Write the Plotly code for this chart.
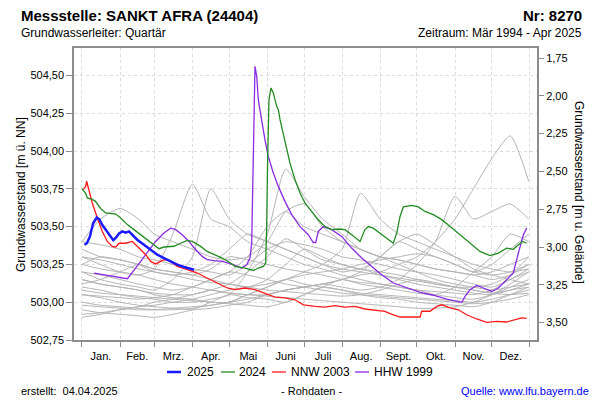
import plotly.graph_objects as go

# ---------------- data ----------------
MONTH_LABELS = ["Jan.", "Feb.", "Mrz.", "Apr.", "Mai", "Juni", "Juli", "Aug.", "Sept.", "Okt.", "Nov.", "Dez."]
MONTH_STARTS = [0, 31, 59, 90, 120, 151, 181, 212, 243, 273, 304, 334, 365]

Y_TICKS = [502.75, 503.00, 503.25, 503.50, 503.75, 504.00, 504.25, 504.50]
Y2_TICKS = [1.75, 2.00, 2.25, 2.50, 2.75, 3.00, 3.25, 3.50]
GROUND = 506.365  # Geländehöhe [m ü. NN]

DAYS_2025 = [2, 4, 6.5, 9, 12, 14, 16.6, 19.3, 23.4, 25.5, 27.5, 30.2, 32.9, 35.6, 38.3, 41, 45, 50.5, 56, 61.4,
             66.8, 72.3, 77.7, 83.1, 87.2, 91.3]
LEVEL_2025 = [503.38, 503.39, 503.435, 503.52, 503.56, 503.55, 503.51, 503.48, 503.435, 503.41, 503.425, 503.455,
              503.468, 503.46, 503.468, 503.446, 503.413, 503.38, 503.347, 503.314, 503.292, 503.27, 503.248,
              503.233, 503.222, 503.215]

DAYS_2024 = [0, 3, 4.3, 8.4, 11, 15.2, 19.3, 23.4, 27.5, 31.5, 37, 42.4, 47.8, 53.2, 58.7, 62.8, 66.8, 75, 80.4,
             85.8, 89.9, 96.7, 102, 107.6, 114.3, 121, 124.7, 132.8, 139.6, 143.7, 147.8, 149.7, 150.5, 151.3,
             152.4, 154, 155.9, 158.7, 160, 161.4, 165.4, 169.5, 173.6, 177.7, 181.7, 187.2, 192.6, 198, 203.5,
             208.9, 214.3, 219.8, 226.6, 230.6, 233.3, 237.4, 242.9, 248.3, 253.7, 256.5, 259.2, 261.9, 268.7,
             274.1, 279.5, 286.3, 293.2, 300, 308, 316.2, 324.4, 332.5, 339.3, 346.1, 351.5, 355.6, 359.2, 362.4]
LEVEL_2024 = [503.75, 503.72, 503.69, 503.68, 503.667, 503.62, 503.59, 503.585, 503.583, 503.557, 503.513, 503.48,
              503.446, 503.413, 503.38, 503.354, 503.365, 503.37, 503.39, 503.409, 503.402, 503.369, 503.336,
              503.314, 503.292, 503.259, 503.237, 503.226, 503.21, 503.226, 503.237, 503.259, 503.50, 503.942,
              504.339, 504.417, 504.384, 504.295, 504.273, 504.207, 504.075, 503.92, 503.81, 503.722, 503.656,
              503.60, 503.545, 503.50, 503.48, 503.484, 503.48, 503.446, 503.402, 503.48, 503.50, 503.49, 503.458,
              503.425, 503.39, 503.458, 503.567, 503.63, 503.64, 503.63, 503.60, 503.579, 503.546, 503.50,
              503.446, 503.39, 503.336, 503.308, 503.325, 503.358, 503.35, 503.38, 503.402, 503.39]

DAYS_NNW = [1, 3, 3.8, 5.7, 8.4, 12.5, 16.6, 20.6, 24.7, 27.5, 30.2, 35.6, 41, 46.5, 51.9, 56, 60, 64.1, 66.8,
            70.9, 77.7, 85.8, 94, 102, 110.3, 118.4, 124.7, 132.8, 141, 149.1, 157.3, 165.4, 173.6, 180.4, 189.9,
            198, 206.2, 214.3, 222.5, 230.6, 238.8, 246.9, 251, 259.2, 267.3, 275.5, 276.9, 283.6, 289.1, 293.2,
            300, 306.7, 313.5, 321.7, 329.8, 338, 346.1, 354.3, 358.4, 362.4]
LEVEL_NNW = [503.744, 503.766, 503.80, 503.744, 503.656, 503.557, 503.468, 503.402, 503.369, 503.365, 503.39,
             503.39, 503.402, 503.358, 503.314, 503.27, 503.253, 503.27, 503.281, 503.276, 503.237, 503.215,
             503.193, 503.16, 503.127, 503.094, 503.083, 503.094, 503.083, 503.061, 503.034, 503.028, 503.016,
             502.983, 502.972, 502.968, 502.977, 502.968, 502.972, 502.955, 502.946, 502.939, 502.924, 502.902,
             502.902, 502.902, 502.94, 502.94, 502.972, 502.983, 502.962, 502.95, 502.917, 502.889, 502.867,
             502.873, 502.869, 502.884, 502.896, 502.893]

DAYS_HHW = [9.8, 37, 43.7, 51.9, 60, 66.8, 72.3, 76.4, 81.7, 87.2, 92.7, 98, 102, 107.6, 114.3, 123.3, 130, 134.2,
            136.9, 138.3, 139.6, 141, 142.4, 143.7, 145, 147, 149.1, 151.8, 155.9, 160, 165.4, 170.9, 177.7,
            184.4, 188.5, 190.5, 192.6, 196.7, 203.5, 211.6, 219.8, 228, 236.1, 242.9, 253.7, 264.6, 275.5,
            286.3, 297.2, 309.5, 312.2, 316.2, 321.7, 327, 333.9, 339.3, 346.1, 351.5, 355.6, 359.7, 362.4]
LEVEL_HHW = [503.193, 503.155, 503.226, 503.314, 503.402, 503.458, 503.49, 503.48, 503.446, 503.402, 503.347,
             503.303, 503.281, 503.275, 503.27, 503.248, 503.226, 503.248, 503.292, 503.39, 503.942, 504.56,
             504.493, 504.34, 504.273, 504.163, 504.075, 503.964, 503.855, 503.766, 503.667, 503.579, 503.50,
             503.446, 503.395, 503.395, 503.468, 503.50, 503.48, 503.435, 503.358, 503.292, 503.237, 503.19,
             503.127, 503.094, 503.065, 503.046, 503.021, 502.999, 503.038, 503.083, 503.111, 503.094, 503.071,
             503.094, 503.149, 503.193, 503.325, 503.446, 503.49]

GRAY_DAYS = [0, 15, 31, 46, 59, 74, 90, 105, 120, 135, 151, 166, 181, 196, 212, 227, 243, 258, 273, 288, 304, 319,
             334, 349, 364]
GRAY_LEVELS = [
    [503.30, 503.25, 503.20, 503.18, 503.22, 503.45, 503.78, 503.55, 503.50, 503.40, 503.35, 503.30, 503.25, 503.22, 503.18, 503.15, 503.12, 503.10, 503.08, 503.05, 503.03, 503.02, 503.05, 503.10, 503.15],
    [503.20, 503.15, 503.12, 503.10, 503.08, 503.15, 503.30, 503.75, 503.55, 503.45, 503.40, 503.35, 503.30, 503.25, 503.20, 503.22, 503.18, 503.15, 503.12, 503.10, 503.08, 503.06, 503.05, 503.08, 503.12],
    [503.10, 503.08, 503.05, 503.03, 503.02, 503.00, 503.00, 503.02, 503.05, 503.20, 503.45, 503.88, 503.70, 503.55, 503.45, 503.35, 503.30, 503.25, 503.20, 503.15, 503.12, 503.10, 503.08, 503.10, 503.12],
    [503.15, 503.12, 503.10, 503.08, 503.05, 503.03, 503.02, 503.00, 503.00, 503.05, 503.10, 503.15, 503.20, 503.25, 503.35, 503.72, 503.55, 503.45, 503.40, 503.35, 503.30, 503.25, 503.22, 503.20, 503.22],
    [503.05, 503.03, 503.00, 502.98, 502.97, 502.96, 502.95, 502.96, 502.98, 503.00, 503.05, 503.08, 503.10, 503.12, 503.15, 503.18, 503.20, 503.25, 503.30, 503.40, 503.55, 503.75, 503.95, 504.10, 503.80],
    [503.25, 503.22, 503.20, 503.18, 503.15, 503.12, 503.10, 503.08, 503.06, 503.05, 503.05, 503.08, 503.10, 503.12, 503.10, 503.08, 503.10, 503.15, 503.25, 503.40, 503.70, 503.55, 503.60, 503.65, 503.55],
    [503.35, 503.30, 503.28, 503.25, 503.22, 503.20, 503.18, 503.22, 503.30, 503.28, 503.25, 503.22, 503.20, 503.18, 503.15, 503.13, 503.12, 503.10, 503.08, 503.07, 503.06, 503.05, 503.08, 503.15, 503.20],
    [503.00, 502.98, 502.97, 502.96, 502.95, 502.95, 502.96, 502.98, 503.00, 503.05, 503.10, 503.15, 503.12, 503.10, 503.08, 503.06, 503.05, 503.04, 503.03, 503.02, 503.01, 503.00, 503.02, 503.05, 503.08],
    [502.90, 502.92, 502.95, 502.97, 502.98, 503.00, 503.02, 503.05, 503.08, 503.10, 503.12, 503.15, 503.18, 503.20, 503.22, 503.25, 503.28, 503.30, 503.32, 503.30, 503.25, 503.20, 503.18, 503.20, 503.25],
    [503.40, 503.38, 503.35, 503.30, 503.28, 503.25, 503.22, 503.20, 503.18, 503.25, 503.35, 503.40, 503.38, 503.35, 503.30, 503.28, 503.25, 503.22, 503.20, 503.18, 503.15, 503.12, 503.10, 503.15, 503.22],
    [502.95, 502.93, 502.92, 502.91, 502.90, 502.92, 502.95, 503.00, 503.05, 503.03, 503.02, 503.00, 503.05, 503.10, 503.08, 503.05, 503.03, 503.02, 503.00, 502.99, 502.98, 502.97, 503.00, 503.05, 503.10],
    [503.20, 503.18, 503.15, 503.12, 503.10, 503.08, 503.10, 503.15, 503.20, 503.30, 503.50, 503.60, 503.50, 503.45, 503.40, 503.35, 503.30, 503.28, 503.25, 503.22, 503.20, 503.18, 503.15, 503.18, 503.25],
    [503.08, 503.06, 503.05, 503.04, 503.03, 503.02, 503.01, 503.00, 502.99, 502.98, 502.97, 503.00, 503.05, 503.10, 503.15, 503.12, 503.10, 503.08, 503.06, 503.05, 503.10, 503.20, 503.30, 503.45, 503.40],
    [503.30, 503.28, 503.25, 503.22, 503.20, 503.18, 503.15, 503.13, 503.12, 503.10, 503.08, 503.07, 503.06, 503.05, 503.04, 503.05, 503.08, 503.12, 503.15, 503.13, 503.10, 503.08, 503.06, 503.08, 503.10],
    [503.12, 503.15, 503.20, 503.25, 503.22, 503.20, 503.18, 503.15, 503.12, 503.10, 503.15, 503.25, 503.35, 503.30, 503.25, 503.22, 503.20, 503.18, 503.15, 503.12, 503.10, 503.08, 503.06, 503.05, 503.06],
    [502.98, 502.97, 502.96, 502.95, 502.95, 502.96, 502.97, 502.98, 503.00, 503.02, 503.05, 503.08, 503.10, 503.12, 503.15, 503.20, 503.30, 503.40, 503.45, 503.38, 503.30, 503.22, 503.18, 503.15, 503.12],
    [503.25, 503.30, 503.28, 503.25, 503.20, 503.18, 503.20, 503.25, 503.35, 503.45, 503.40, 503.35, 503.30, 503.25, 503.22, 503.20, 503.18, 503.16, 503.14, 503.12, 503.10, 503.10, 503.12, 503.18, 503.30],
    [503.05, 503.04, 503.03, 503.02, 503.03, 503.05, 503.10, 503.15, 503.20, 503.18, 503.15, 503.12, 503.10, 503.08, 503.06, 503.05, 503.04, 503.03, 503.02, 503.01, 503.00, 502.99, 503.00, 503.02, 503.05],
    [503.15, 503.12, 503.10, 503.08, 503.06, 503.05, 503.05, 503.08, 503.12, 503.20, 503.30, 503.42, 503.35, 503.28, 503.25, 503.22, 503.30, 503.40, 503.35, 503.30, 503.25, 503.20, 503.25, 503.35, 503.45],
    [502.92, 502.93, 502.95, 502.97, 503.00, 503.02, 503.05, 503.08, 503.06, 503.05, 503.04, 503.03, 503.02, 503.01, 503.00, 502.99, 502.98, 502.97, 502.96, 502.96, 502.97, 503.00, 503.05, 503.12, 503.20],
    [503.40, 503.55, 503.62, 503.55, 503.45, 503.40, 503.35, 503.30, 503.28, 503.30, 503.40, 503.60, 503.65, 503.50, 503.40, 503.35, 503.30, 503.28, 503.25, 503.22, 503.20, 503.18, 503.20, 503.25, 503.30],
]

# ---------------- layout geometry ----------------
W, H = 600, 400
ML, MR, MT, MB = 74, 63, 48, 60
PW, PH = W - ML - MR, H - MT - MB
Y_MIN = 502.75
Y_MAX = Y_MIN + PH / 151.2
X_RANGE = [-6.5, 370.8]


def px(x):
    return (x - ML) / PW


def py(y):
    return (H - MB - y) / PH


FONT = "Liberation Sans, Arial, sans-serif"
AXIS_GRAY = "#8c8c8c"
GRID = "#dcdcdc"

fig = go.Figure()

for lv in GRAY_LEVELS:
    fig.add_trace(go.Scatter(x=GRAY_DAYS, y=lv, mode="lines", line=dict(color="#b4b4b4", width=1, shape="spline", smoothing=0.6),
                             showlegend=False, hoverinfo="skip"))

fig.add_trace(go.Scatter(x=DAYS_HHW, y=LEVEL_HHW, mode="lines", name="HHW 1999",
                         line=dict(color="#8a2be2", width=1.3), showlegend=False))
fig.add_trace(go.Scatter(x=DAYS_NNW, y=LEVEL_NNW, mode="lines", name="NNW 2003",
                         line=dict(color="#ff1a1a", width=1.3), showlegend=False))
fig.add_trace(go.Scatter(x=DAYS_2024, y=LEVEL_2024, mode="lines", name="2024",
                         line=dict(color="#228b22", width=1.3), showlegend=False))
fig.add_trace(go.Scatter(x=DAYS_2025, y=LEVEL_2025, mode="lines", name="2025",
                         line=dict(color="#1a1aff", width=2.5), showlegend=False))
# right axis carrier (depth below ground)
fig.add_trace(go.Scatter(x=[None], y=[None], yaxis="y2", showlegend=False, hoverinfo="skip"))

mids = [(MONTH_STARTS[i] + MONTH_STARTS[i + 1]) / 2 for i in range(12)]

fig.update_layout(
    width=W, height=H,
    margin=dict(l=ML, r=MR, t=MT, b=MB),
    paper_bgcolor="white", plot_bgcolor="white",
    font=dict(family=FONT, size=11, color="black"),
    showlegend=False,
    xaxis=dict(
        range=X_RANGE, showgrid=False, zeroline=False,
        tickmode="array", tickvals=mids, ticktext=MONTH_LABELS,
        ticks="outside", ticklen=5, tickcolor="rgba(0,0,0,0)",
        tickfont=dict(size=11, color="black"),
        showline=True, linecolor=AXIS_GRAY, linewidth=1.5, mirror=True,
        minor=dict(tickmode="array", tickvals=MONTH_STARTS, ticks="outside", ticklen=5,
                   tickcolor=AXIS_GRAY, showgrid=True, gridcolor=GRID, griddash="3px,3px", gridwidth=1),
    ),
    yaxis=dict(
        range=[Y_MIN, Y_MAX], zeroline=False,
        tickmode="array", tickvals=Y_TICKS, ticktext=[f"{v:.2f}".replace(".", ",") for v in Y_TICKS],
        ticks="outside", ticklen=6, tickcolor=AXIS_GRAY,
        showgrid=True, gridcolor=GRID, griddash="3px,3px", gridwidth=1,
        showline=True, linecolor=AXIS_GRAY, linewidth=1.5, mirror=True,
        tickfont=dict(size=11, color="black"),
    ),
    yaxis2=dict(
        overlaying="y", side="right",
        range=[GROUND - Y_MIN, GROUND - Y_MAX], zeroline=False, showgrid=False,
        tickmode="array", tickvals=Y2_TICKS, ticktext=[f"{v:.2f}".replace(".", ",") for v in Y2_TICKS],
        ticks="outside", ticklen=6, tickcolor=AXIS_GRAY, showline=False,
        tickfont=dict(size=11, color="black"),
    ),
)

ann = []


def text(x, y, s, size=11, xanchor="left", color="black", bold=False, angle=0):
    ann.append(dict(x=px(x), y=py(y), xref="paper", yref="paper", text=(f"<b>{s}</b>" if bold else s),
                    showarrow=False, xanchor=xanchor, yanchor="middle", textangle=angle,
                    font=dict(family=FONT, size=size, color=color)))


text(19, 15, "Messstelle: SANKT AFRA (24404)", size=15, bold=True)
text(584, 15, "Nr: 8270", size=15, xanchor="right", bold=True)
text(19, 33, "Grundwasserleiter: Quartär", size=12)
text(584, 33, "Zeitraum: Mär 1994 - Apr 2025", size=12, xanchor="right")
text(21, 195, "Grundwasserstand [m ü. NN]", size=12, xanchor="center", angle=-90)
text(579, 192, "Grundwasserstand [m u. Gelände]", size=12, xanchor="center", angle=90)
text(19, 391, "erstellt:&nbsp;&nbsp;04.04.2025", size=11)
text(311, 391, "- Rohdaten -", size=11, xanchor="center")
text(591, 391, "Quelle: www.lfu.bayern.de", size=11, xanchor="right", color="#0000ff")

# legend (drawn manually, matching the reference's compact layout)
LEG = [("2025", "#1a1aff", 2.5, 167, 185), ("2024", "#228b22", 1.3, 221, 237),
       ("NNW 2003", "#ff1a1a", 1.3, 272, 289), ("HHW 1999", "#8a2be2", 1.3, 355, 372)]
shapes = []
for name, col, w, x0, tx in LEG:
    shapes.append(dict(type="line", xref="paper", yref="paper", x0=px(x0), x1=px(x0 + 14), y0=py(372), y1=py(372),
                       line=dict(color=col, width=w)))
    text(tx, 372, name, size=12)

fig.update_layout(annotations=ann, shapes=shapes)
fig.write_html("out.html", config={"displayModeBar": False},
               post_script="document.body.style.margin='0';document.body.style.overflow='hidden';")
